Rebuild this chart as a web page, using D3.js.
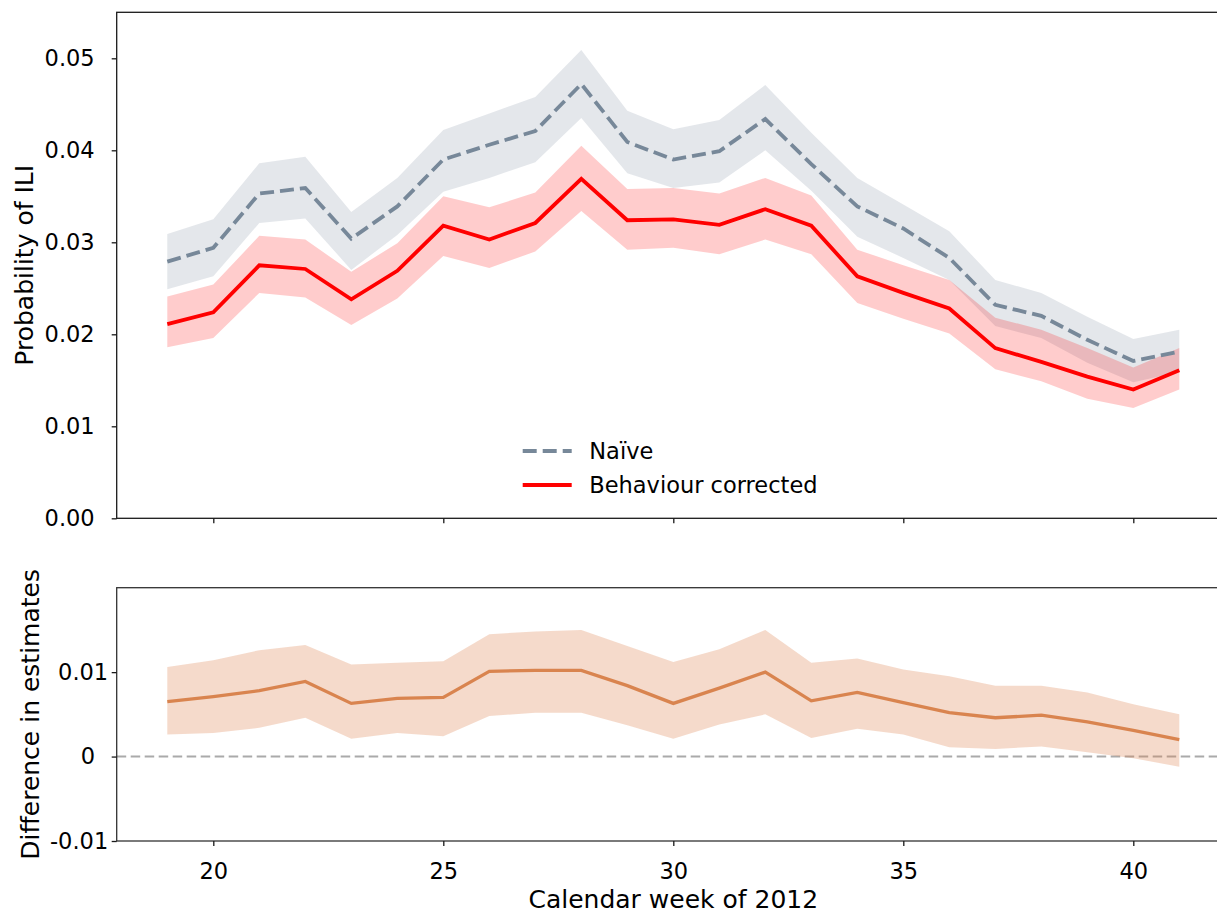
<!DOCTYPE html>
<html>
<head>
<meta charset="utf-8">
<script src="https://cdn.jsdelivr.net/npm/d3@7"></script>
<style>
  html, body { margin: 0; padding: 0; background: #ffffff; }
  svg { display: block; font-family: "DejaVu Sans", sans-serif; }
</style>
</head>
<body>
<svg id="chart" width="1217" height="915"></svg>
<script>
// Calendar weeks of 2012
const weeks = [19, 20, 21, 22, 23, 24, 25, 26, 27, 28, 29, 30, 31, 32, 33, 34, 35, 36, 37, 38, 39, 40, 41];

// Naive estimate of ILI probability with its interval
const naive   = [0.0279, 0.0294, 0.0353, 0.0359, 0.0304, 0.0339, 0.0390, 0.0406, 0.0421, 0.0472, 0.0409, 0.0390, 0.0399, 0.0434, 0.0385, 0.0339, 0.0315, 0.0283, 0.0232, 0.0220, 0.0194, 0.0171, 0.0181];
const naiveLo = [0.0249, 0.0263, 0.0321, 0.0326, 0.0270, 0.0308, 0.0355, 0.0370, 0.0387, 0.0435, 0.0375, 0.0359, 0.0365, 0.0400, 0.0356, 0.0306, 0.0283, 0.0259, 0.0209, 0.0196, 0.0169, 0.0148, 0.0159];
const naiveHi = [0.0309, 0.0325, 0.0386, 0.0393, 0.0333, 0.0370, 0.0422, 0.0440, 0.0458, 0.0509, 0.0443, 0.0423, 0.0433, 0.0471, 0.0419, 0.0370, 0.0341, 0.0312, 0.0259, 0.0245, 0.0219, 0.0195, 0.0205];

// Behaviour-corrected estimate with its interval
const corrected   = [0.0211, 0.0224, 0.0275, 0.0271, 0.0238, 0.0269, 0.0318, 0.0303, 0.0321, 0.0369, 0.0324, 0.0325, 0.0319, 0.0336, 0.0318, 0.0263, 0.0245, 0.0228, 0.0185, 0.0170, 0.0154, 0.0140, 0.0161];
const correctedLo = [0.0186, 0.0196, 0.0245, 0.0240, 0.0210, 0.0239, 0.0285, 0.0272, 0.0290, 0.0334, 0.0292, 0.0294, 0.0287, 0.0303, 0.0287, 0.0234, 0.0217, 0.0201, 0.0162, 0.0149, 0.0130, 0.0120, 0.0140];
const correctedHi = [0.0241, 0.0254, 0.0307, 0.0303, 0.0268, 0.0299, 0.0350, 0.0338, 0.0354, 0.0405, 0.0358, 0.0359, 0.0353, 0.0370, 0.0351, 0.0292, 0.0275, 0.0259, 0.0218, 0.0205, 0.0185, 0.0164, 0.0185];

// Difference between the two estimates with its interval
const diff   = [0.0065, 0.0071, 0.0078, 0.0089, 0.0063, 0.0069, 0.0070, 0.0101, 0.0102, 0.0102, 0.0084, 0.0063, 0.0081, 0.0100, 0.0066, 0.0076, 0.0064, 0.0052, 0.0046, 0.0049, 0.0041, 0.0031, 0.0020];
const diffLo = [0.0026, 0.0028, 0.0034, 0.0046, 0.0021, 0.0028, 0.0024, 0.0048, 0.0052, 0.0052, 0.0037, 0.0021, 0.0038, 0.0050, 0.0022, 0.0033, 0.0026, 0.0011, 0.0009, 0.0012, 0.0005, -0.0002, -0.0012];
const diffHi = [0.0106, 0.0114, 0.0126, 0.0132, 0.0109, 0.0111, 0.0113, 0.0145, 0.0148, 0.0150, 0.0131, 0.0112, 0.0127, 0.0150, 0.0111, 0.0116, 0.0103, 0.0095, 0.0084, 0.0084, 0.0076, 0.0062, 0.0050];

// Tick values and labels
const xTicks = [20, 25, 30, 35, 40];
const topYTicks = [0, 0.01, 0.02, 0.03, 0.04, 0.05];
const topYLabels = ["0.00", "0.01", "0.02", "0.03", "0.04", "0.05"];
const botYTicks = [-0.01, 0, 0.01];
const botYLabels = ["-0.01", "0", "0.01"];

const legendLabels = ["Naïve", "Behaviour corrected"];

const svg = d3.select("#chart");

const left = 116.7, right = 1229.9;
const x = d3.scaleLinear().domain([17.9, 42.1]).range([left, right]);
const yTop = d3.scaleLinear().domain([0, 0.055]).range([518.3, 12.3]);
const yBot = d3.scaleLinear().domain([-0.01, 0.02]).range([841, 587.7]);

const rows = weeks.map((w, i) => ({
  w, naive: naive[i], nLo: naiveLo[i], nHi: naiveHi[i],
  corr: corrected[i], cLo: correctedLo[i], cHi: correctedHi[i],
  diff: diff[i], dLo: diffLo[i], dHi: diffHi[i]
}));

const FONT = 22.5;
const LABEL_FONT = 25;

// ---------- upper panel ----------
const upper = svg.append("g");

upper.append("path")
  .datum(rows)
  .attr("fill", "#778899").attr("fill-opacity", 0.2)
  .attr("d", d3.area().x(d => x(d.w)).y0(d => yTop(d.nLo)).y1(d => yTop(d.nHi)));

upper.append("path")
  .datum(rows)
  .attr("fill", "#ff0000").attr("fill-opacity", 0.2)
  .attr("d", d3.area().x(d => x(d.w)).y0(d => yTop(d.cLo)).y1(d => yTop(d.cHi)));

upper.append("path")
  .datum(rows)
  .attr("fill", "none").attr("stroke", "#778899")
  .attr("stroke-width", 3.8).attr("stroke-dasharray", "14,6")
  .attr("d", d3.line().x(d => x(d.w)).y(d => yTop(d.naive)));

upper.append("path")
  .datum(rows)
  .attr("fill", "none").attr("stroke", "#ff0000")
  .attr("stroke-width", 3.8).attr("stroke-linejoin", "miter")
  .attr("d", d3.line().x(d => x(d.w)).y(d => yTop(d.corr)));

// frame
upper.append("rect")
  .attr("x", left).attr("y", yTop.range()[1])
  .attr("width", right - left).attr("height", yTop.range()[0] - yTop.range()[1])
  .attr("fill", "none").attr("stroke", "#1a1a1a").attr("stroke-width", 1.3);

const upperY = upper.append("g")
  .attr("transform", `translate(${left},0)`)
  .call(d3.axisLeft(yTop).tickValues(topYTicks)
    .tickFormat((d, i) => topYLabels[i]).tickSize(5).tickPadding(17));
upperY.select(".domain").remove();

const upperX = upper.append("g")
  .attr("transform", `translate(0,${yTop.range()[0]})`)
  .call(d3.axisBottom(x).tickValues(xTicks).tickFormat("").tickSize(5));
upperX.select(".domain").remove();

// legend
const legend = upper.append("g").attr("transform", "translate(522.7,451)");
legend.append("line")
  .attr("x1", 0).attr("x2", 49).attr("y1", 0).attr("y2", 0)
  .attr("stroke", "#778899").attr("stroke-width", 3.8).attr("stroke-dasharray", "14,6");
legend.append("line")
  .attr("x1", 0).attr("x2", 49).attr("y1", 34).attr("y2", 34)
  .attr("stroke", "#ff0000").attr("stroke-width", 3.8);
legend.selectAll("text.lg")
  .data(legendLabels)
  .join("text")
  .attr("class", "lg")
  .attr("x", 66.6).attr("y", (d, i) => 8 + i * 34)
  .attr("font-size", FONT).attr("fill", "#000")
  .text(d => d);

svg.append("text")
  .attr("transform", `translate(33,${(yTop.range()[0] + yTop.range()[1]) / 2}) rotate(-90)`)
  .attr("text-anchor", "middle").attr("font-size", LABEL_FONT).attr("fill", "#000")
  .text("Probability of ILI");

// ---------- lower panel ----------
const lower = svg.append("g");

lower.append("line")
  .attr("x1", left).attr("x2", right)
  .attr("y1", yBot(0)).attr("y2", yBot(0))
  .attr("stroke", "#aaaaaa").attr("stroke-width", 2).attr("stroke-dasharray", "9.5,4.5");

lower.append("path")
  .datum(rows)
  .attr("fill", "#dd8452").attr("fill-opacity", 0.3)
  .attr("d", d3.area().x(d => x(d.w)).y0(d => yBot(d.dLo)).y1(d => yBot(d.dHi)));

lower.append("path")
  .datum(rows)
  .attr("fill", "none").attr("stroke", "#d9844f").attr("stroke-width", 3.3)
  .attr("d", d3.line().x(d => x(d.w)).y(d => yBot(d.diff)));

lower.append("rect")
  .attr("x", left).attr("y", yBot.range()[1])
  .attr("width", right - left).attr("height", yBot.range()[0] - yBot.range()[1])
  .attr("fill", "none").attr("stroke", "#333333").attr("stroke-width", 1.3);

const lowerY = lower.append("g")
  .attr("transform", `translate(${left},0)`)
  .call(d3.axisLeft(yBot).tickValues(botYTicks)
    .tickFormat((d, i) => botYLabels[i]).tickSize(5).tickPadding(3.5));
lowerY.select(".domain").remove();
// the zero label sits a little further left
lowerY.selectAll(".tick text").filter(d => d === 0).attr("dx", -13);

const lowerX = lower.append("g")
  .attr("transform", `translate(0,${yBot.range()[0]})`)
  .call(d3.axisBottom(x).tickValues(xTicks).tickFormat(d3.format("d")).tickSize(5).tickPadding(17));
lowerX.select(".domain").remove();

svg.append("text")
  .attr("transform", `translate(39,${(yBot.range()[0] + yBot.range()[1]) / 2}) rotate(-90)`)
  .attr("text-anchor", "middle").attr("font-size", LABEL_FONT).attr("fill", "#000")
  .text("Difference in estimates");

svg.append("text")
  .attr("x", (left + right) / 2).attr("y", 908)
  .attr("text-anchor", "middle").attr("font-size", LABEL_FONT).attr("fill", "#000")
  .text("Calendar week of 2012");

// shared tick styling
svg.selectAll(".tick text")
  .attr("font-size", FONT).attr("font-family", "DejaVu Sans, sans-serif").attr("fill", "#000");
svg.selectAll(".tick line").attr("stroke", "#1a1a1a").attr("stroke-width", 1.3);
</script>
</body>
</html>
